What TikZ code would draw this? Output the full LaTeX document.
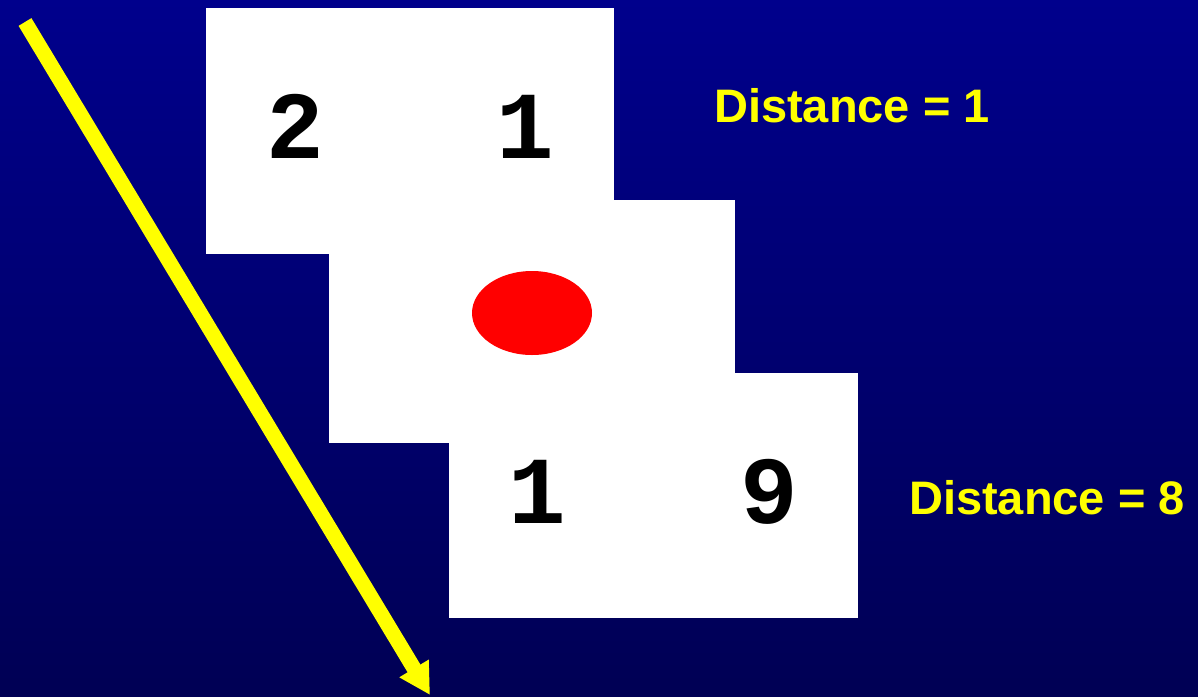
\documentclass[tikz,border=0pt]{standalone}
\usepackage{fontspec}
\setmainfont{Liberation Sans}
\newfontfamily\digitfont{Liberation Mono}
\usepackage{tikz}
\usetikzlibrary{arrows.meta, shapes.geometric}
\definecolor{bgtop}{RGB}{0,0,140}
\definecolor{bgbottom}{RGB}{0,0,84}
\definecolor{dotred}{RGB}{255,0,0}
\definecolor{lineyellow}{RGB}{255,255,0}

\begin{document}
\begin{tikzpicture}[
  x=1pt, y=-1pt,
  card/.style={rectangle, fill=white, draw=none, inner sep=0pt},
  digit/.style={anchor=base, inner sep=0pt, font=\digitfont\bfseries\fontsize{96}{100}\selectfont},
  dist/.style={anchor=base west, inner sep=0pt, text=lineyellow, font=\bfseries\fontsize{47}{56}\selectfont}
]
  \useasboundingbox[top color=bgtop, bottom color=bgbottom] (0,0) rectangle (1198,696);

  % the three cards
  \node[card, minimum width=408pt, minimum height=246pt] (top) at (410,131) {};
  \node[card, minimum width=406pt, minimum height=243pt] (mid) at (532,321.5) {};
  \node[card, minimum width=409pt, minimum height=245pt] (bot) at (653.5,495.5) {};

  \node[ellipse, fill=dotred, minimum width=120pt, minimum height=84pt, inner sep=0pt] (dot) at (532,313) {};

  \node[digit] (topL) at (295,158) {2};
  \node[digit] (topR) at (525,158) {1};
  \node[digit] (botL) at (537,523) {1};
  \node[digit] (botR) at (769,523) {9};

  \node[dist] (distTop) at (714,122) {Distance = 1};
  \node[dist] (distBot) at (909,514) {Distance = 8};

  % scan direction
  \coordinate (scanA) at (25,22);
  \coordinate (scanB) at (430,695);
  \draw[lineyellow, line width=15pt, -{Triangle[length=31pt, width=32pt]}] (scanA) -- (scanB);
\end{tikzpicture}
\end{document}
